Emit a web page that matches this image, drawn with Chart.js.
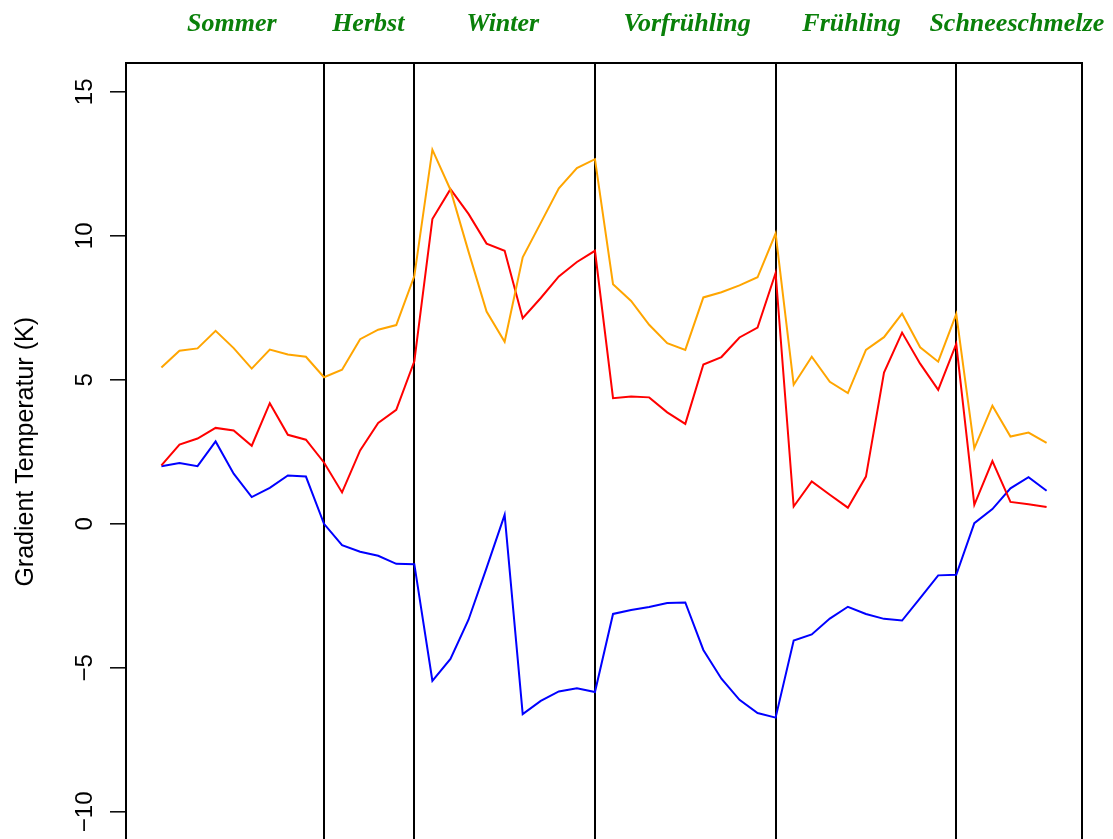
<!DOCTYPE html>
<html>
<head>
<meta charset="utf-8">
<script src="https://cdn.jsdelivr.net/npm/chart.js@4/dist/chart.umd.min.js"></script>
<style>
  html, body { margin: 0; padding: 0; background: #fff; overflow: hidden; }
  #wrap { width: 1113px; height: 839px; position: relative; }
</style>
</head>
<body>
<div id="wrap"><canvas id="c"></canvas></div>
<script>
// Seasons and the sample indices where one season ends and the next begins
const seasons = ['Sommer', 'Herbst', 'Winter', 'Vorfrühling', 'Frühling', 'Schneeschmelze'];
const seasonLabelAt = [3.9, 11.45, 18.9, 29.1, 38.2, 47.35];
const seasonBreaks = [9, 14, 24, 34, 44];
const yTicks = [-10, -5, 0, 5, 10, 15];

// Temperature gradients (K), one value per sample
const gradOrange = [
  5.43, 6.01, 6.09, 6.70, 6.10, 5.39, 6.05, 5.88, 5.80, 5.09,
  5.35, 6.41, 6.74, 6.90, 8.60, 12.99, 11.60, 9.45, 7.37, 6.32,
  9.25, 10.45, 11.65, 12.35, 12.66, 8.32, 7.74, 6.91, 6.27, 6.04,
  7.86, 8.04, 8.28, 8.56, 10.08, 4.83, 5.80, 4.93, 4.54, 6.04,
  6.48, 7.30, 6.13, 5.63, 7.28, 2.62, 4.10, 3.03, 3.17, 2.81
];
const gradRed = [
  2.03, 2.75, 2.96, 3.33, 3.24, 2.71, 4.19, 3.09, 2.92, 2.13,
  1.09, 2.55, 3.50, 3.96, 5.64, 10.58, 11.62, 10.76, 9.73, 9.48,
  7.14, 7.84, 8.59, 9.09, 9.48, 4.36, 4.42, 4.39, 3.87, 3.47,
  5.53, 5.79, 6.47, 6.81, 8.71, 0.60, 1.47, 1.01, 0.56, 1.64,
  5.25, 6.64, 5.56, 4.65, 6.25, 0.66, 2.18, 0.76, 0.68, 0.58
];
const gradBlue = [
  2.00, 2.11, 2.00, 2.86, 1.74, 0.93, 1.25, 1.68, 1.64, 0.00,
  -0.74, -0.97, -1.11, -1.39, -1.40, -5.45, -4.69, -3.33, -1.53, 0.31,
  -6.61, -6.15, -5.82, -5.71, -5.84, -3.13, -2.99, -2.89, -2.75, -2.73,
  -4.38, -5.38, -6.11, -6.57, -6.73, -4.05, -3.84, -3.29, -2.88, -3.13,
  -3.30, -3.36, -2.58, -1.79, -1.77, 0.02, 0.51, 1.23, 1.62, 1.15
];

const toPoints = arr => arr.map((v, i) => ({ x: i, y: v }));

// 4% margin around the sample range, like a classic plotting device
const X_MIN = -1.96, X_MAX = 50.96;
const Y_MIN = -10.944, Y_MAX = 16;

const SANS = '"Liberation Sans", Arial, Helvetica, sans-serif';
const SERIF = '"Liberation Serif", "Times New Roman", serif';

// Frame, season dividers, y axis ticks/labels and season headings
const framePlugin = {
  id: 'frame',
  beforeDatasetsDraw(chart) {
    const { ctx, chartArea: a, scales: { x } } = chart;
    ctx.save();
    ctx.strokeStyle = '#000';
    ctx.lineWidth = 2;
    seasonBreaks.forEach(b => {
      const px = Math.round(x.getPixelForValue(b));
      ctx.beginPath();
      ctx.moveTo(px, a.top);
      ctx.lineTo(px, a.bottom + 10);
      ctx.stroke();
    });
    ctx.restore();
  },
  afterDatasetsDraw(chart) {
    const { ctx, chartArea: a, scales: { x, y } } = chart;
    ctx.save();
    ctx.strokeStyle = '#000';
    ctx.lineWidth = 2;
    ctx.strokeRect(a.left, a.top, a.right - a.left, a.bottom - a.top + 20);

    // y ticks
    ctx.lineWidth = 1.5;
    ctx.fillStyle = '#000';
    ctx.font = '24px ' + SANS;
    ctx.textAlign = 'center';
    ctx.textBaseline = 'alphabetic';
    yTicks.forEach(t => {
      const py = y.getPixelForValue(t);
      ctx.beginPath();
      ctx.moveTo(a.left - 16, py);
      ctx.lineTo(a.left, py);
      ctx.stroke();
      ctx.save();
      ctx.translate(92, py);
      ctx.rotate(-Math.PI / 2);
      ctx.fillText(t < 0 ? '\u2212' + Math.abs(t) : String(t), 0, 0);
      ctx.restore();
    });

    // y title
    ctx.save();
    ctx.font = '25px ' + SANS;
    ctx.translate(33, (a.top + y.getPixelForValue(-11)) / 2);
    ctx.rotate(-Math.PI / 2);
    ctx.fillText('Gradient Temperatur (K)', 0, 0);
    ctx.restore();

    // season headings
    ctx.fillStyle = '#0a800a';
    ctx.font = 'italic bold 26px ' + SERIF;
    seasons.forEach((s, i) => {
      ctx.fillText(s, x.getPixelForValue(seasonLabelAt[i]), 31);
    });
    ctx.restore();
  }
};

const lineStyle = { borderWidth: 2, pointRadius: 0, tension: 0, fill: false };

new Chart(document.getElementById('c'), {
  type: 'line',
  data: {
    datasets: [
      { label: 'orange', data: toPoints(gradOrange), borderColor: '#FFA500', ...lineStyle },
      { label: 'red', data: toPoints(gradRed), borderColor: '#FF0000', ...lineStyle },
      { label: 'blue', data: toPoints(gradBlue), borderColor: '#0000FF', ...lineStyle }
    ]
  },
  options: {
    responsive: true,
    maintainAspectRatio: false,
    animation: false,
    layout: { padding: { left: 126, right: 31, top: 63, bottom: 0 } },
    plugins: { legend: { display: false }, tooltip: { enabled: false } },
    scales: {
      x: {
        type: 'linear', display: false, bounds: 'data', min: X_MIN, max: X_MAX,
        afterDataLimits(s) { s.min = X_MIN; s.max = X_MAX; },
        afterBuildTicks(s) { s.min = X_MIN; s.max = X_MAX; }
      },
      y: {
        type: 'linear', display: false, bounds: 'data', min: Y_MIN, max: Y_MAX,
        afterDataLimits(s) { s.min = Y_MIN; s.max = Y_MAX; },
        afterBuildTicks(s) { s.min = Y_MIN; s.max = Y_MAX; }
      }
    }
  },
  plugins: [framePlugin]
});
</script>
</body>
</html>
